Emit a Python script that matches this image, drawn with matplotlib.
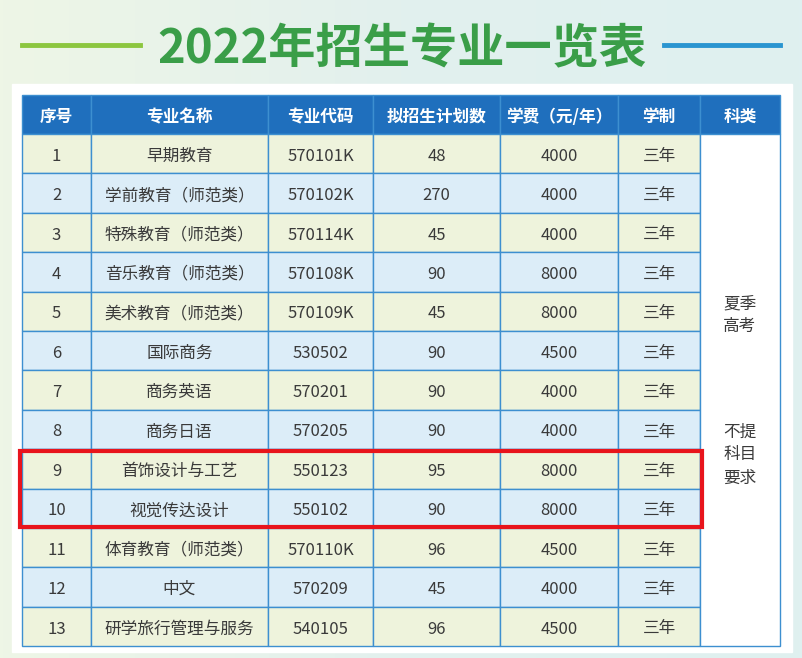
import matplotlib
matplotlib.use("Agg")
import matplotlib.pyplot as plt
from matplotlib.patches import Rectangle
from matplotlib.colors import LinearSegmentedColormap
import numpy as np

plt.rcParams["font.family"] = ["Noto Sans CJK SC", "Noto Sans CJK JP", "Noto Sans CJK TC", "DejaVu Sans"]

headers = ["序号", "专业名称", "专业代码", "拟招生计划数", "学费（元/年）", "学制", "科类"]
ids = [str(i) for i in range(1, 14)]
names = ["早期教育", "学前教育（师范类）", "特殊教育（师范类）", "音乐教育（师范类）", "美术教育（师范类）",
         "国际商务", "商务英语", "商务日语", "首饰设计与工艺", "视觉传达设计", "体育教育（师范类）", "中文", "研学旅行管理与服务"]
codes = ["570101K", "570102K", "570114K", "570108K", "570109K", "530502", "570201", "570205",
         "550123", "550102", "570110K", "570209", "540105"]
plans = [48, 270, 45, 90, 45, 90, 90, 90, 95, 90, 96, 45, 96]
fees = [4000, 4000, 4000, 8000, 8000, 4500, 4000, 4000, 8000, 8000, 4500, 4000, 4500]
duration = ["三年"] * 13
category_top = "夏季\n高考"
category_bottom = "不提\n科目\n要求"
title = "2022年招生专业一览表"

fig = plt.figure(figsize=(8.02, 6.58), dpi=100)
ax = fig.add_axes([0, 0, 1, 1])
ax.set_xlim(0, 802); ax.set_ylim(658, 0); ax.axis("off")

grad = np.linspace(0, 1, 256)[None, :]
cm = LinearSegmentedColormap.from_list("bg", ["#eef6e6", "#e2f0ee", "#dff0f0"])
ax.imshow(grad, extent=(0, 802, 658, 0), cmap=cm, aspect="auto", zorder=0)

ax.plot([22, 140], [45, 45], color="#8cc63f", lw=3.5, zorder=2)
ax.plot([664, 780], [45, 45], color="#2a95d0", lw=3.5, zorder=2)
ax.text(402, 49, title, fontsize=34, fontweight="bold", color="#3a9e48",
        ha="center", va="center", zorder=3)

ax.add_patch(Rectangle((12, 84), 780, 568, color="white", zorder=1))

xs = [22, 91, 268, 373, 500, 618, 700, 780]
y0, hh, rh = 95, 39, 39.4
line = "#3d8fd0"
dy = 2.5
for i, h in enumerate(headers):
    ax.add_patch(Rectangle((xs[i], y0), xs[i+1]-xs[i], hh, facecolor="#1f6fbd", edgecolor=line, lw=1, zorder=2))
    ax.text((xs[i]+xs[i+1])/2, y0+hh/2+dy, h, color="white", fontsize=12, fontweight="bold",
            ha="center", va="center", zorder=3)
rows = list(zip(ids, names, codes, [str(p) for p in plans], [str(f) for f in fees], duration))
top = y0 + hh
for r, row in enumerate(rows):
    y = top + r*rh
    fc = "#eef3dc" if r % 2 == 0 else "#dcedf8"
    for c, val in enumerate(row):
        ax.add_patch(Rectangle((xs[c], y), xs[c+1]-xs[c], rh, facecolor=fc, edgecolor=line, lw=1, zorder=2))
        ax.text((xs[c]+xs[c+1])/2, y+rh/2+dy, val, color="#3a3a3a", fontsize=12,
                ha="center", va="center", zorder=3)
bottom = top + 13*rh
ax.add_patch(Rectangle((xs[6], top), xs[7]-xs[6], bottom-top, facecolor="white", edgecolor=line, lw=1, zorder=2))
ax.text(740, 315, category_top, fontsize=12, color="#3a3a3a", ha="center", va="center",
        linespacing=1.45, zorder=3)
ax.text(740, 455, category_bottom, fontsize=12, color="#3a3a3a", ha="center", va="center",
        linespacing=1.45, zorder=3)

ax.add_patch(Rectangle((20, 451), 682, 76, fill=False, edgecolor="#e8141c", lw=3, zorder=4))

fig.savefig("out.png", dpi=100)
